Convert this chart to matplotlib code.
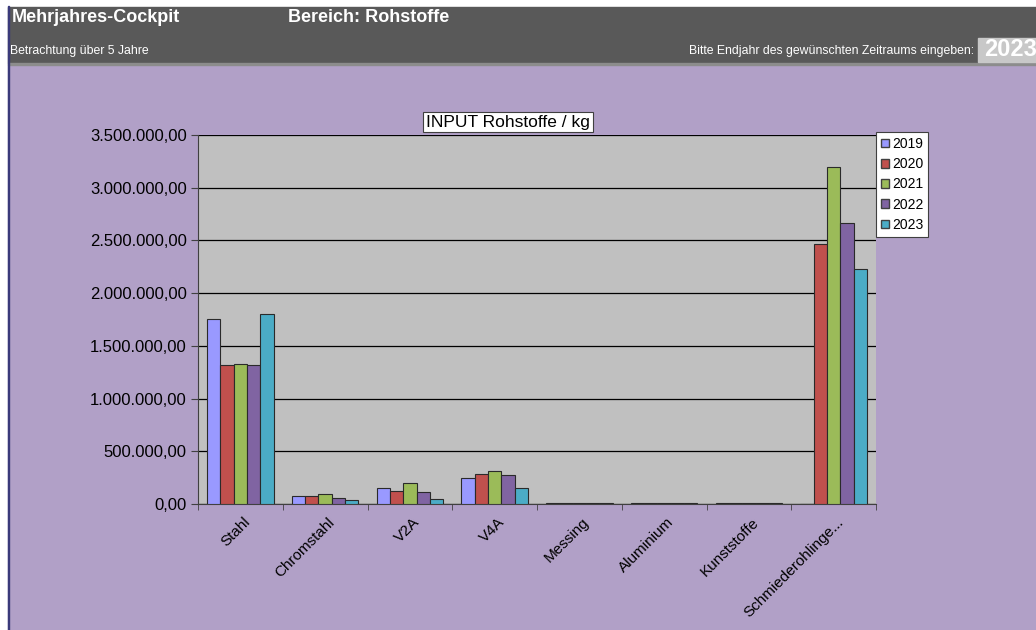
import matplotlib.pyplot as plt
import matplotlib.patches as mpatches
from matplotlib.ticker import FuncFormatter, MultipleLocator
import numpy as np

plt.rcParams['font.family'] = ['Liberation Sans', 'DejaVu Sans']

categories = ['Stahl', 'Chromstahl', 'V2A', 'V4A', 'Messing', 'Aluminium',
              'Kunststoffe', 'Schmiederohlinge...']
years = ['2019', '2020', '2021', '2022', '2023']
v2019 = [1755000, 72000, 148000, 243000, 5000, 5000, 5000, 0]
v2020 = [1318000, 79000, 126000, 281000, 5000, 5000, 5000, 2466000]
v2021 = [1328000, 91000, 195000, 316000, 5000, 5000, 5000, 3197000]
v2022 = [1318000, 57000, 114000, 271000, 5000, 5000, 5000, 2668000]
v2023 = [1798000, 34000, 50000, 148000, 5000, 5000, 5000, 2229000]
series = [v2019, v2020, v2021, v2022, v2023]
colors = ['#9999FF', '#C0504D', '#9BBB59', '#8064A2', '#4BACC6']

W, H = 1036, 630
fig = plt.figure(figsize=(W / 100, H / 100), dpi=100)
fig.patch.set_facecolor('white')

def fx(px):
    return px / W

def fy(py):
    return 1 - py / H

# background and header
fig.patches.append(mpatches.Rectangle((fx(8), 0), 1, fy(65), transform=fig.transFigure,
                                      color='#B1A0C7', zorder=-5))
fig.patches.append(mpatches.Rectangle((fx(8), fy(63)), 1, fy(7) - fy(63), transform=fig.transFigure,
                                      color='#595959', zorder=-5))
fig.patches.append(mpatches.Rectangle((fx(8), fy(65)), 1, fy(63) - fy(65), transform=fig.transFigure,
                                      color='#8C8C8C', zorder=-5))
fig.patches.append(mpatches.Rectangle((fx(7.5), 0), fx(1), fy(6), transform=fig.transFigure,
                                      color='#3A3A7A', zorder=-4))
fig.patches.append(mpatches.Rectangle((fx(978), fy(62)), 1, fy(38) - fy(62), transform=fig.transFigure,
                                      color='#C8C8C8', zorder=-4))

fig.text(fx(12), fy(18), 'Mehrjahres-Cockpit', color='white', fontsize=13,
         fontweight='bold', va='center')
fig.text(fx(288), fy(18), 'Bereich: Rohstoffe', color='white', fontsize=13,
         fontweight='bold', va='center')
fig.text(fx(10), fy(51), 'Betrachtung über 5 Jahre', color='white', fontsize=8.8, va='center')
fig.text(fx(974), fy(51), 'Bitte Endjahr des gewünschten Zeitraums eingeben:', color='white',
         fontsize=8.8, va='center', ha='right')
fig.text(fx(984), fy(49), '2023', color='white', fontsize=17, fontweight='bold', va='center')

# chart
ax = fig.add_axes([fx(198), fy(504), fx(876) - fx(198), fy(135) - fy(504)])
ax.set_zorder(2)
ax.set_facecolor('#C0C0C0')
x = np.arange(len(categories))
bw = 0.157
for i, (vals, c, yr) in enumerate(zip(series, colors, years)):
    ax.bar(x + (i - 2) * bw, vals, bw, color=c, edgecolor='#2A2A2A', linewidth=0.8,
           label=yr, zorder=3)

ax.set_xlim(-0.5, len(categories) - 0.5)
ax.set_ylim(0, 3500000)
ax.yaxis.set_major_locator(MultipleLocator(500000))
ax.yaxis.set_major_formatter(FuncFormatter(
    lambda v, p: f'{v:,.2f}'.replace(',', 'X').replace('.', ',').replace('X', '.')))
ax.grid(axis='y', color='black', linewidth=0.9, zorder=1)
ax.set_xticks(x + 0.03)
ax.set_xticklabels(categories, rotation=45, ha='right', rotation_mode='anchor', fontsize=11)
ax.set_xticks(np.arange(len(categories) + 1) - 0.5, minor=True)
ax.tick_params(axis='x', which='major', length=0, pad=8)
ax.tick_params(axis='x', which='minor', length=4, color='#404040')
ax.tick_params(axis='y', length=5, labelsize=12, color='#404040', pad=3)
for s in ['top', 'right']:
    ax.spines[s].set_visible(False)
ax.spines['left'].set_color('#404040')
ax.spines['bottom'].set_color('#404040')

fig.text(fx(508), fy(122), 'INPUT Rohstoffe / kg', fontsize=12.5, ha='center', va='center',
         zorder=5, bbox=dict(facecolor='white', edgecolor='#404040', linewidth=0.8, pad=2))

handles = [mpatches.Patch(facecolor=c, edgecolor='#404040', label=y) for c, y in zip(colors, years)]
leg = fig.legend(handles=handles, loc='upper left', bbox_to_anchor=(fx(876), fy(132)),
                 fontsize=10, frameon=True, fancybox=False, framealpha=1, handlelength=0.6,
                 handleheight=0.6, handletextpad=0.2, borderpad=0.35, labelspacing=0.45,
                 borderaxespad=0)
leg.set_zorder(5)
leg.get_frame().set_edgecolor('#404040')
leg.get_frame().set_linewidth(0.8)

fig.savefig('out.png', dpi=100)
